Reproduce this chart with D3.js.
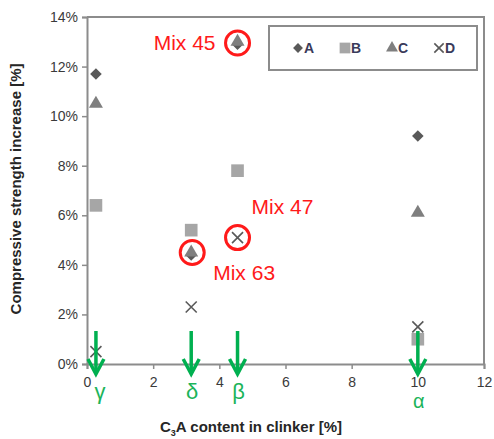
<!DOCTYPE html>
<html>
<head>
<meta charset="utf-8">
<script src="https://cdn.jsdelivr.net/npm/d3@7"></script>
<style>
  html, body { margin: 0; padding: 0; background: #fff; }
  svg { display: block; font-family: "Liberation Sans", Arial, sans-serif; }
</style>
</head>
<body>
<svg id="chart" width="494" height="439"></svg>
<script>
// C3A content of each clinker (x) and the compressive strength increase per mix series
const clinkerNames = ["γ", "δ", "β", "α"];
const c3aContent = [0.27, 3.15, 4.55, 10];
const seriesNames = ["A", "B", "C", "D"];
const seriesA = [11.7, 4.4, 12.9, 9.2];
const seriesB = [6.4, 5.4, 7.8, 1.0];
const seriesC = [10.5, 4.5, 13.0, 6.1];
const seriesD = [0.5, 2.3, 5.1, 1.5];
const xTicks = [0, 2, 4, 6, 8, 10, 12];
const yTicks = [0, 2, 4, 6, 8, 10, 12, 14];
// highlighted mixes: label, clinker index, value
const mixNotes = [
  { label: "Mix 45", idx: 2, value: 12.95 },
  { label: "Mix 63", idx: 1, value: 4.5 },
  { label: "Mix 47", idx: 2, value: 5.1 }
];

const svg = d3.select("#chart");
const W = 494, H = 439;
const m = { top: 17, right: 10, bottom: 75, left: 87 };
const iw = W - m.left - m.right, ih = H - m.top - m.bottom;

const x = d3.scaleLinear().domain([0, 12]).range([0, iw]);
const y = d3.scaleLinear().domain([0, 14]).range([ih, 0]);

const g = svg.append("g").attr("transform", `translate(${m.left},${m.top})`);
const axisColor = "#8c8c8c";
const textColor = "#3a3a3a";

// plot frame (top and right)
g.append("path")
  .attr("d", `M0,0H${iw}V${ih}`)
  .attr("fill", "none").attr("stroke", axisColor).attr("stroke-width", 2);

// axes
const yAxis = g.append("g")
  .call(d3.axisLeft(y).tickValues(yTicks).tickFormat(d => d + "%").tickSizeOuter(0).tickSize(5).tickPadding(4));
const xAxis = g.append("g").attr("transform", `translate(0,${ih})`)
  .call(d3.axisBottom(x).tickValues(xTicks).tickFormat(d3.format("d")).tickSizeOuter(0).tickSize(5).tickPadding(8));
[xAxis, yAxis].forEach(a => {
  a.select(".domain").attr("stroke", axisColor).attr("stroke-width", 2);
  a.selectAll(".tick line").attr("stroke", axisColor).attr("stroke-width", 1.5);
  a.selectAll(".tick text").attr("fill", textColor).style("font-size", "14px");
});

// axis titles
const xt = svg.append("text")
  .attr("x", 251).attr("y", 432)
  .attr("text-anchor", "middle").attr("fill", "#262626")
  .style("font-size", "15px").style("font-weight", "bold");
xt.append("tspan").text("C");
xt.append("tspan").text("3").style("font-size", "9px").attr("dy", 4);
xt.append("tspan").text("A content in clinker [%]").attr("dy", -4);

svg.append("text")
  .attr("transform", `translate(21,189) rotate(-90)`)
  .attr("text-anchor", "middle").attr("fill", "#262626")
  .style("font-size", "15px").style("font-weight", "bold")
  .text("Compressive strength increase [%]");

// markers
const shapes = {
  A: { type: "diamond", r: 5.8, fill: "#595959" },
  B: { type: d3.symbolSquare, size: 160, fill: "#a6a6a6" },
  C: { type: d3.symbolTriangle, size: 85, fill: "#7f7f7f" },
  D: { type: "cross" }
};
const seriesValues = { A: seriesA, B: seriesB, C: seriesC, D: seriesD };

function drawMarker(sel, name, cx, cy, scale = 1) {
  const s = shapes[name];
  if (s.type === "cross") {
    const r = 5.5 * scale;
    sel.append("path")
      .attr("d", `M${cx - r},${cy - r}L${cx + r},${cy + r}M${cx - r},${cy + r}L${cx + r},${cy - r}`)
      .attr("stroke", "#595959").attr("stroke-width", 1.6).attr("fill", "none");
  } else if (s.type === "diamond") {
    const r = s.r * scale;
    sel.append("path")
      .attr("d", `M${cx},${cy - r}L${cx + r},${cy}L${cx},${cy + r}L${cx - r},${cy}Z`)
      .attr("fill", s.fill);
  } else {
    sel.append("path")
      .attr("d", d3.symbol().type(s.type).size(s.size * scale * scale)())
      .attr("transform", `translate(${cx},${cy})`)
      .attr("fill", s.fill);
  }
}

const pts = g.append("g");
seriesNames.forEach(name => {
  seriesValues[name].forEach((v, i) => drawMarker(pts, name, x(c3aContent[i]), y(v)));
});

// green arrows marking each clinker on the x axis
const green = "#00b050";
const arrows = g.append("g");
c3aContent.forEach((c, i) => {
  const ax = x(c);
  arrows.append("line")
    .attr("x1", ax).attr("x2", ax).attr("y1", ih - 33).attr("y2", ih + 9)
    .attr("stroke", green).attr("stroke-width", 3.5);
  arrows.append("path")
    .attr("d", `M${ax - 8},${ih - 5}L${ax},${ih + 10}L${ax + 8},${ih - 5}`)
    .attr("stroke", green).attr("stroke-width", 3.5).attr("fill", "none")
    .attr("stroke-linejoin", "miter");
});
// clinker names
clinkerNames.forEach((n, i) => {
  const isAlpha = i === 3;
  g.append("text")
    .attr("x", x(c3aContent[i]) + (i === 0 ? 4 : 1))
    .attr("y", ih + (isAlpha ? 44 : 35))
    .attr("text-anchor", "middle")
    .attr("fill", "#1cb45a")
    .style("font-size", isAlpha ? "20px" : "22px")
    .text(n);
});

// highlighted mixes
const red = "#ff1a1a";
const notes = g.append("g");
const labelOffsets = { "Mix 45": [-22, 7, "end"], "Mix 63": [21, 28, "start"], "Mix 47": [14, -24, "start"] };
mixNotes.forEach(n => {
  const cx = x(c3aContent[n.idx]) + (n.label === "Mix 63" ? 1 : 0);
  const cy = y(n.value);
  notes.append("circle").attr("cx", cx).attr("cy", cy).attr("r", 12)
    .attr("fill", "none").attr("stroke", red).attr("stroke-width", 3);
  const o = labelOffsets[n.label];
  notes.append("text")
    .attr("x", cx + o[0]).attr("y", cy + o[1])
    .attr("text-anchor", o[2]).attr("fill", red)
    .style("font-size", "21px")
    .text(n.label);
});

// legend
const lg = svg.append("g").attr("transform", "translate(269,26)");
lg.append("rect").attr("width", 208).attr("height", 44)
  .attr("fill", "#fff").attr("stroke", axisColor).attr("stroke-width", 2);
seriesNames.forEach((name, i) => {
  const lx = 29 + i * 47, ly = 22;
  drawMarker(lg, name, lx, ly, 0.85);
  lg.append("text").attr("x", lx + 6).attr("y", ly + 5)
    .attr("fill", "#3a3a5a").style("font-size", "14px").style("font-weight", "bold")
    .text(name);
});
</script>
</body>
</html>
